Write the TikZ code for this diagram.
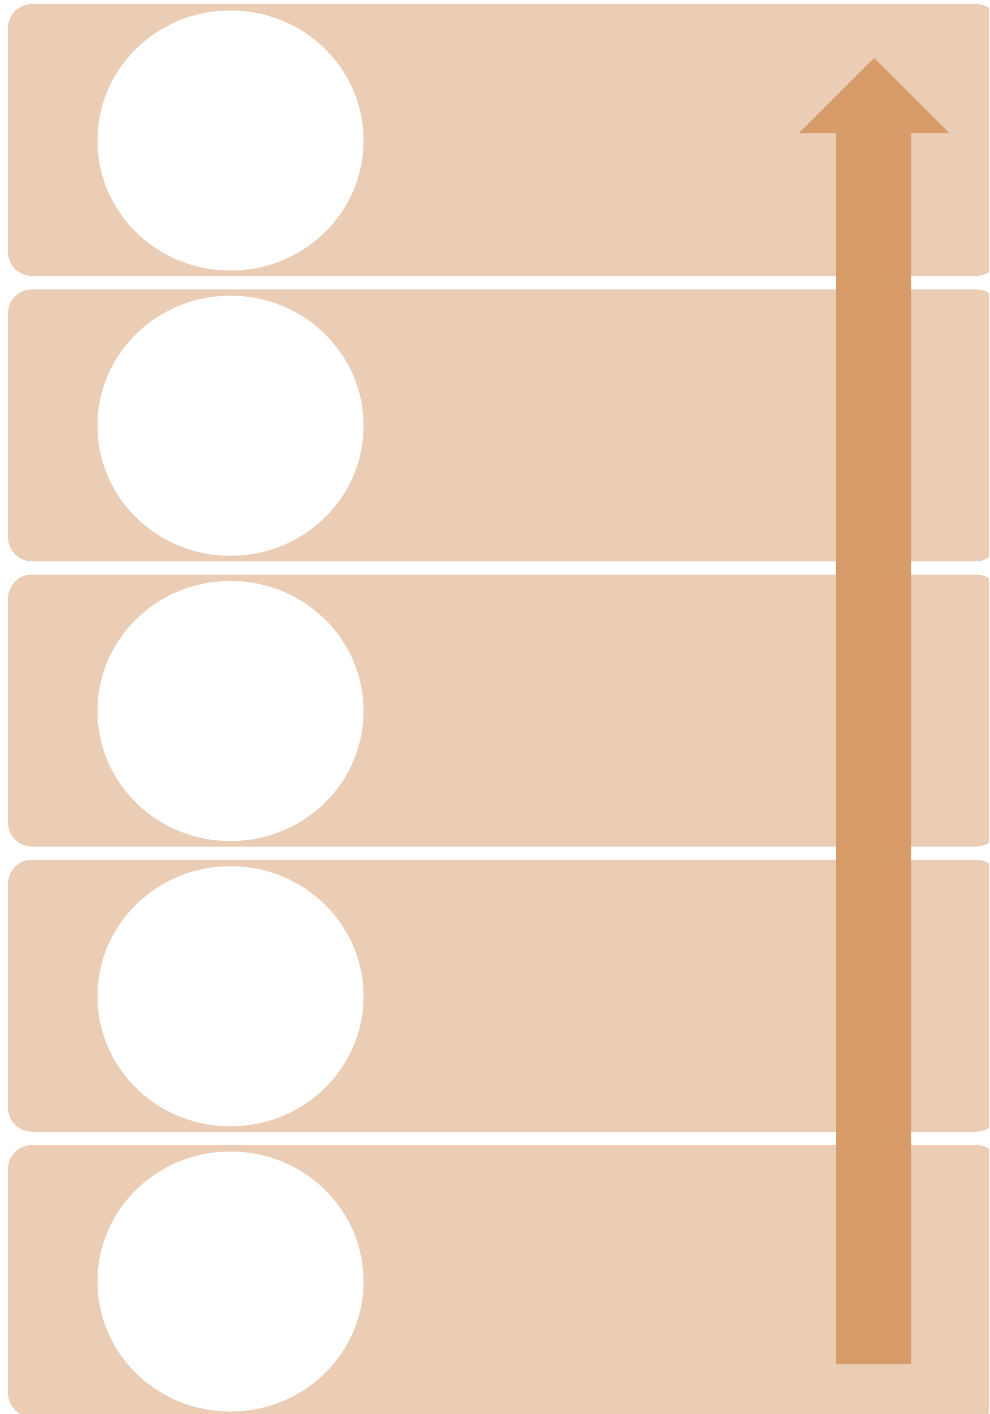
\documentclass[tikz,border=0pt]{standalone}
\usetikzlibrary{shapes.geometric}
\begin{document}
\begin{tikzpicture}[x=1pt,y=-1pt,
  bandbox/.style={fill=bandc,draw=none,rounded corners=24pt},
  disc/.style={ellipse,fill=white,draw=none,minimum width=266pt,minimum height=260pt,inner sep=0pt}]
\definecolor{bandc}{HTML}{EBCDB6}
\definecolor{arrowc}{HTML}{D89C6B}
\useasboundingbox (0,0) rectangle (989,1414);
\clip (0,0) rectangle (989,1414);
\foreach \i in {0,...,4}{
  \pgfmathsetmacro{\t}{4+285.25*\i}
  \pgfmathsetmacro{\b}{\t+272}
  \pgfmathsetmacro{\c}{\t+136.5}
  \fill[bandbox] (8,\t) rectangle (1000,\b);
  \node[disc] (d\i) at (230.5,\c) {};
}
\fill[arrowc] (836,1364) -- (836,133) -- (799,133) -- (874,58) -- (949,133) -- (911,133) -- (911,1364) -- cycle;
\end{tikzpicture}
\end{document}
